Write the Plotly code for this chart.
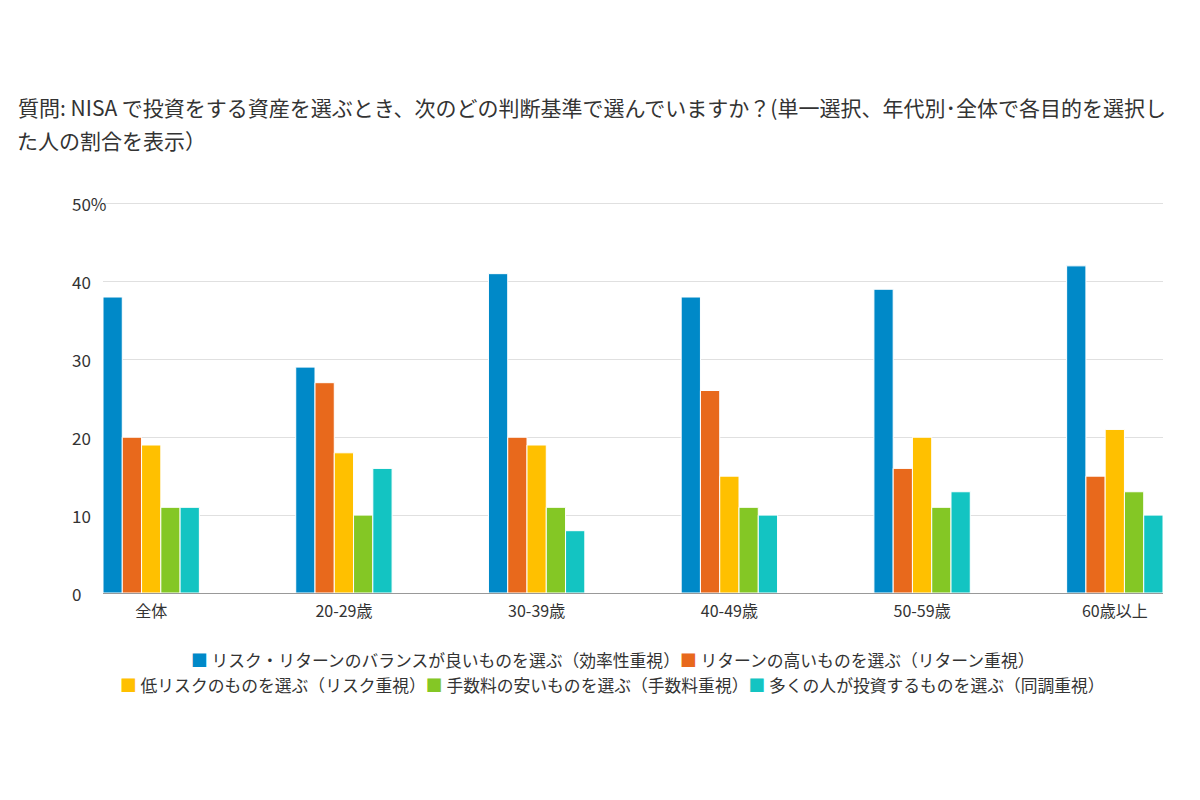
import plotly.graph_objects as go

categories = ["全体", "20-29歳", "30-39歳", "40-49歳", "50-59歳", "60歳以上"]

series_names = [
    "リスク・リターンのバランスが良いものを選ぶ（効率性重視）",
    "リターンの高いものを選ぶ（リターン重視）",
    "低リスクのものを選ぶ（リスク重視）",
    "手数料の安いものを選ぶ（手数料重視）",
    "多くの人が投資するものを選ぶ（同調重視）",
]

balance = [38, 29, 41, 38, 39, 42]
high_return = [20, 27, 20, 26, 16, 15]
low_risk = [19, 18, 19, 15, 20, 21]
low_fee = [11, 10, 11, 11, 11, 13]
follow_crowd = [11, 16, 8, 10, 13, 10]

colors = ["#0089C8", "#E8691C", "#FFC000", "#84C725", "#13C4C2"]

y_ticks = [0, 10, 20, 30, 40, 50]
y_tick_text = ["0", "10", "20", "30", "40", "50%"]

title_line1 = "質問: NISA で投資をする資産を選ぶとき、次のどの判断基準で選んでいますか？(単一選択、年代別･全体で各目的を選択し"
title_line2 = "た人の割合を表示）"

FONT = "Noto Sans CJK JP"
TXT = "#333333"

# page is drawn with an 8px body margin, layout numbers below are figure px
ML, MR, MT, MB = 95, 45, 194, 215
PW = 1200 - ML - MR
PH = 800 - MT - MB


def px_x(x):
    return (x - ML) / PW


def px_y(y):
    return 1 - (y - MT) / PH


fig = go.Figure()
all_values = [balance, high_return, low_risk, low_fee, follow_crowd]
for name, vals, col in zip(series_names, all_values, colors):
    fig.add_trace(
        go.Bar(
            x=categories,
            y=vals,
            name=name,
            marker=dict(color=col, line=dict(color="white", width=1)),
        )
    )

# left-aligned y tick labels
for v, t in zip(y_ticks, y_tick_text):
    fig.add_annotation(
        x=px_x(62), xref="paper", xanchor="left",
        y=v, yref="y", yanchor="middle",
        text=t, showarrow=False,
        font=dict(family=FONT, size=17, color=TXT),
    )

# second title line (wider line spacing than plotly's default)
fig.add_annotation(
    x=px_x(7), xref="paper", xanchor="left",
    y=px_y(132), yref="paper", yanchor="middle",
    text=title_line2, showarrow=False,
    font=dict(family=FONT, size=21, color=TXT),
)

# legend drawn as two centred rows
def legend_row(idx):
    parts = []
    for i in idx:
        parts.append(
            f"<span style='color:{colors[i]}'>■</span> {series_names[i]}"
        )
    return "".join(parts)


for idx, yy in [([0, 1], 652), ([2, 3, 4], 677)]:
    fig.add_annotation(
        x=px_x(604), xref="paper", xanchor="center",
        y=px_y(yy), yref="paper", yanchor="middle",
        text=legend_row(idx), showarrow=False,
        font=dict(family=FONT, size=16.8, color=TXT),
    )

fig.update_layout(
    width=1200,
    height=800,
    paper_bgcolor="white",
    plot_bgcolor="white",
    font=dict(family=FONT, color=TXT),
    margin=dict(l=ML, r=MR, t=MT, b=MB),
    barmode="group",
    bargap=0.5,
    bargroupgap=0,
    showlegend=False,
    title=dict(
        text=title_line1,
        x=10 / 1200,
        xanchor="left",
        xref="container",
        y=1 - 101 / 800,
        yanchor="middle",
        yref="container",
        font=dict(family=FONT, size=21, color=TXT),
    ),
    xaxis=dict(
        range=[-0.25, 5.25],
        showgrid=False,
        showline=True,
        linecolor="#999999",
        linewidth=1,
        ticks="",
        ticklabelstandoff=4,
        tickfont=dict(family=FONT, size=16, color=TXT),
        fixedrange=True,
    ),
    yaxis=dict(
        range=[0, 50.2],
        tickvals=y_ticks,
        showticklabels=False,
        showgrid=True,
        gridcolor="#e0e0e0",
        gridwidth=1,
        zeroline=False,
        fixedrange=True,
    ),
)

fig.write_html("out.html")
